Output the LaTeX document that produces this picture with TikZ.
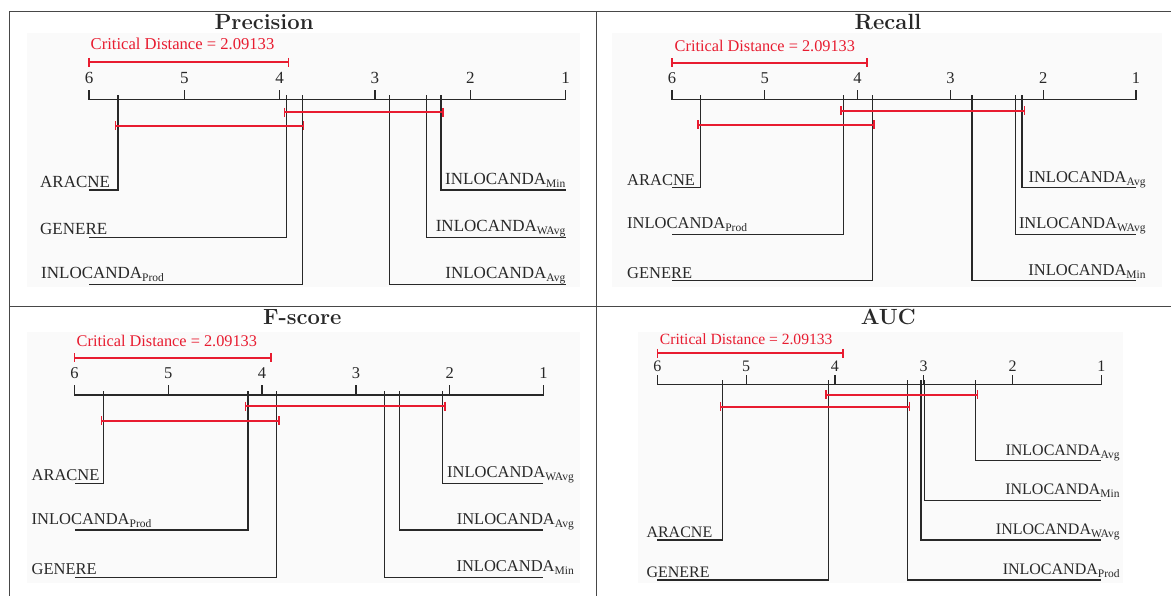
\documentclass[tikz,border=0pt]{standalone}
\usepackage{fontspec}
\newfontfamily\tnr{Liberation Serif}
\definecolor{cdred}{RGB}{232,28,48}
\definecolor{ink}{RGB}{40,40,40}
\definecolor{panelbg}{RGB}{250,250,250}

\tikzset{
  frame/.style={line width=1pt, draw=ink!85},
  axisline/.style={line width=1.3pt, draw=ink, line cap=rect},
  rank/.style={line width=1.2pt, draw=ink},
  cdbar/.style={line width=2.2pt, draw=cdred},
  paneltitle/.style={font=\fontsize{22}{22}\selectfont\bfseries, text=ink, inner sep=0pt, anchor=base},
  cdlab/.style={font=\fontsize{#1}{#1}\selectfont\tnr, text=cdred, inner sep=0pt, anchor=base west},
  num/.style={font=\fontsize{#1}{#1}\selectfont\tnr, text=ink, inner sep=0pt, anchor=base},
  lab/.style={font=\fontsize{#1}{#1}\selectfont\tnr, text=ink, inner sep=0pt},
}

% subscript of a method name
\newcommand\lsub[1]{\raisebox{-3pt}{\fontsize{11.5}{11.5}\selectfont #1}}

% axis: #1 prefix, #2 x of rank 6, #3 x of rank 1, #4 axis y, #5 number baseline, #6 font size
\newcommand\cdaxis[6]{%
  \draw[axisline] (#2,#4) -- (#3,#4);
  \foreach \r in {1,...,6}{%
    \pgfmathsetmacro\xx{#2+(6-\r)*(#3-#2)/5}
    \draw[axisline] (\xx,#4) -- (\xx,#4-9);
    \node[num=#6] (#1-t\r) at (\xx,#5) {\r};
  }%
}
% red interval with end marks: #1 x from, #2 x to, #3 y
\newcommand\cdspan[3]{%
  \draw[cdbar] (#1,#3) -- (#2,#3);
  \draw[cdbar, line width=1.6pt] (#1,#3-4.5) -- (#1,#3+4.5);
  \draw[cdbar, line width=1.6pt] (#2,#3-4.5) -- (#2,#3+4.5);
}

\begin{document}
\begin{tikzpicture}[x=1pt, y=-1pt]
\useasboundingbox (0,0) rectangle (1171,596);
\fill[white] (0,0) rectangle (1171,596);

% chart areas
\fill[panelbg] (27,33) rectangle (580,287);
\fill[panelbg] (612,33) rectangle (1162,287);
\fill[panelbg] (27,332) rectangle (580,583);
\fill[panelbg] (638,332) rectangle (1123,583);

% table rules
\draw[frame] (9,596) -- (9,12) -- (1171,12);
\draw[frame] (596,12) -- (596,596);
\draw[frame] (9,307) -- (1171,307);

% ---------------- Precision ----------------
\node[paneltitle] (p-title) at (264,29.5) {Precision};
\node[cdlab=16.6] (p-cd) at (90.5,50) {Critical Distance = 2.09133};
\cdspan{89}{288.3}{62.3}
\cdaxis{p}{89}{565.6}{99.5}{84}{17}
\draw[rank] (118,95.5) |- (89,190);
\draw[rank] (286.3,95.5) |- (89,237.3);
\draw[rank] (302.3,95.5) |- (89,284.3);
\draw[rank] (440.9,95.5) |- (565.6,190);
\draw[rank] (426.3,95.5) |- (565.6,237.3);
\draw[rank] (389.6,95.5) |- (565.6,284.3);
\cdspan{284.3}{443.2}{112.3}
\cdspan{115.6}{303.5}{125.7}
\node[lab=17, anchor=base west] (p-aracne) at (40,187.5) {ARACNE};
\node[lab=17, anchor=base west] (p-genere) at (40,234.8) {GENERE};
\node[lab=17, anchor=base west] (p-prod) at (41,278.8) {INLOCANDA\lsub{Prod}};
\node[lab=17, anchor=base east] (p-min) at (565.6,184.5) {INLOCANDA\lsub{Min}};
\node[lab=17, anchor=base east] (p-wavg) at (565.6,231.8) {INLOCANDA\lsub{WAvg}};
\node[lab=17, anchor=base east] (p-avg) at (565.6,278.8) {INLOCANDA\lsub{Avg}};

% ---------------- Recall ----------------
\node[paneltitle] (r-title) at (888,29.5) {Recall};
\node[cdlab=16.3] (r-cd) at (674.5,51.5) {Critical Distance = 2.09133};
\cdspan{671.9}{866.8}{62.7}
\cdaxis{r}{671.9}{1136.1}{99.3}{84}{16.5}
\draw[rank] (700.4,95.3) |- (671.9,187.7);
\draw[rank] (843.8,95.3) |- (671.9,234.3);
\draw[rank] (872.3,95.3) |- (671.9,280.7);
\draw[rank] (1022,95.3) |- (1136.1,187.7);
\draw[rank] (1015.3,95.3) |- (1136.1,234.3);
\draw[rank] (972,95.3) |- (1136.1,280.7);
\cdspan{841.2}{1024.6}{111}
\cdspan{698.2}{874.2}{125}
\node[lab=16.5, anchor=base west] (r-aracne) at (627,185.2) {ARACNE};
\node[lab=16.5, anchor=base west] (r-prod) at (627,228.8) {INLOCANDA\lsub{Prod}};
\node[lab=16.5, anchor=base west] (r-genere) at (627,278.2) {GENERE};
\node[lab=16.5, anchor=base east] (r-avg) at (1145.8,182.2) {INLOCANDA\lsub{Avg}};
\node[lab=16.5, anchor=base east] (r-wavg) at (1145.8,228.8) {INLOCANDA\lsub{WAvg}};
\node[lab=16.5, anchor=base east] (r-min) at (1145.8,275.2) {INLOCANDA\lsub{Min}};

% ---------------- F-score ----------------
\node[paneltitle] (f-title) at (302.3,325) {F-score};
\node[cdlab=16.3] (f-cd) at (76.5,346.5) {Critical Distance = 2.09133};
\cdspan{74.6}{271}{357.7}
\cdaxis{f}{74.6}{543.4}{395}{378.5}{16.5}
\draw[rank] (103.3,391) |- (74.6,483.3);
\draw[rank] (248,391) |- (74.6,530);
\draw[rank] (276.3,391) |- (74.6,577.3);
\draw[rank] (442.8,391) |- (543.4,483.3);
\draw[rank] (399.5,391) |- (543.4,530);
\draw[rank] (384.6,391) |- (543.4,577.3);
\cdspan{245.3}{445}{406}
\cdspan{101.4}{279}{420.7}
\node[lab=16.5, anchor=base west] (f-aracne) at (31.4,480.8) {ARACNE};
\node[lab=16.5, anchor=base west] (f-prod) at (31.4,524.5) {INLOCANDA\lsub{Prod}};
\node[lab=16.5, anchor=base west] (f-genere) at (31.4,574.8) {GENERE};
\node[lab=16.5, anchor=base east] (f-wavg) at (574,477.8) {INLOCANDA\lsub{WAvg}};
\node[lab=16.5, anchor=base east] (f-avg) at (574,524.5) {INLOCANDA\lsub{Avg}};
\node[lab=16.5, anchor=base east] (f-min) at (574,571.8) {INLOCANDA\lsub{Min}};

% ---------------- AUC ----------------
\node[paneltitle] (a-title) at (888.3,325) {AUC};
\node[cdlab=15.6] (a-cd) at (659.7,344.3) {Critical Distance = 2.09133};
\cdspan{657.4}{843}{353.3}
\cdaxis{a}{657.4}{1101.3}{384.3}{371}{16}
\draw[rank] (722.3,380.3) |- (657.4,540);
\draw[rank] (828.2,380.3) |- (657.4,580);
\draw[rank] (975.3,380.3) |- (1101.3,460.7);
\draw[rank] (924.6,380.3) |- (1101.3,500.3);
\draw[rank] (920.9,380.3) |- (1101.3,540);
\draw[rank] (907.5,380.3) |- (1101.3,580);
\cdspan{826}{977.5}{394.7}
\cdspan{720.4}{909.4}{406.7}
\node[lab=16, anchor=base west] (a-aracne) at (646.3,537.5) {ARACNE};
\node[lab=16, anchor=base west] (a-genere) at (646.3,577.5) {GENERE};
\node[lab=16, anchor=base east] (a-avg) at (1119.8,455.2) {INLOCANDA\lsub{Avg}};
\node[lab=16, anchor=base east] (a-min) at (1119.8,494.8) {INLOCANDA\lsub{Min}};
\node[lab=16, anchor=base east] (a-wavg) at (1119.8,534.5) {INLOCANDA\lsub{WAvg}};
\node[lab=16, anchor=base east] (a-prod) at (1119.8,574.5) {INLOCANDA\lsub{Prod}};
\end{tikzpicture}
\end{document}
